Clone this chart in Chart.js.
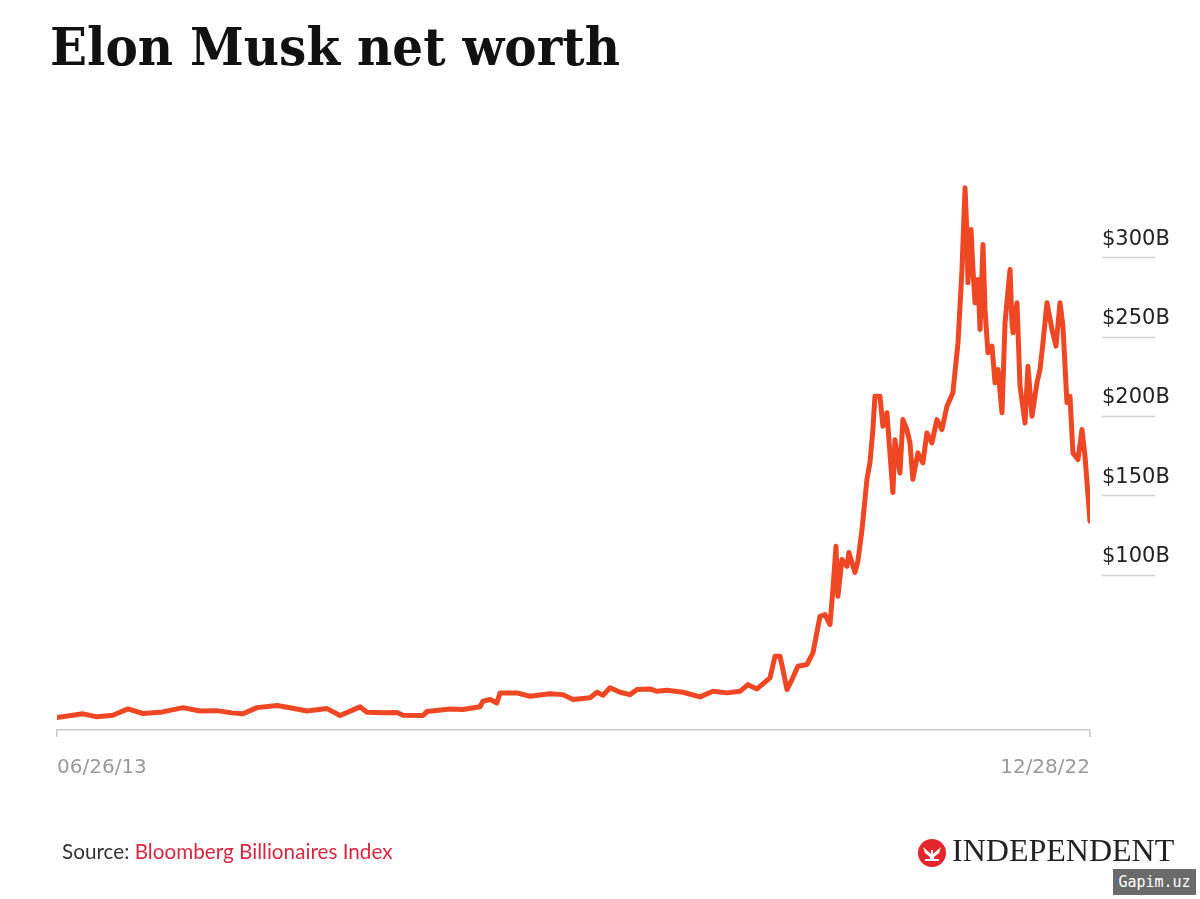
<!DOCTYPE html>
<html>
<head>
<meta charset="utf-8">
<script src="https://cdn.jsdelivr.net/npm/chart.js@4.4.1/dist/chart.umd.min.js"></script>
<style>
  body { margin: 0; background: #fff; width: 1200px; height: 899px; overflow: hidden; position: relative; }
  #chart { position: absolute; left: 0; top: 0; }
  #title { position: absolute; left: 50px; top: 21px; font: bold 52px "DejaVu Serif"; line-height: 52px; color: #111; white-space: nowrap; transform-origin: 0 0; }
  #source { position: absolute; left: 62px; top: 841px; font: 20.7px Lato; line-height: 20px; white-space: nowrap; }
  #source .lbl { color: #333; }
  #source .red { color: #d7283f; }
  #logo { position: absolute; left: 917px; top: 834px; height: 32px; white-space: nowrap; }
  #logo svg { position: absolute; left: 0; top: 4px; }
  #logo span { position: absolute; left: 35px; top: 0; font: 32px "Liberation Serif"; line-height: 32px; color: #222; }
  #mark { position: absolute; left: 1113px; top: 869px; width: 83px; height: 26px; background: #6b6b6b; color: #fff; font: 15px "DejaVu Sans Mono"; line-height: 26px; text-align: center; }
</style>
</head>
<body>
<div id="title">Elon Musk net worth</div>
<canvas id="chart" width="1200" height="899"></canvas>
<div id="source"><span class="lbl">Source:</span> <span class="red">Bloomberg Billionaires Index</span></div>
<div id="logo">
  <svg width="30" height="30" viewBox="-15 -15 30 30">
    <circle r="14" fill="#e3262d"/>
    <path d="M-9,-6 L-1,1 L-1,-3 L1,-3 L1,1 L9,-6 L7,0 L2,4 L2,8 L-2,8 L-2,4 L-7,0 Z" fill="#fff"/>
    <path d="M-7,6 L7,6 L7,8 L-7,8 Z" fill="#fff"/>
  </svg>
  <span>INDEPENDENT</span>
</div>
<div id="mark">Gapim.uz</div>
<script>
// decimal years
const years = [2013.482, 2013.721, 2013.850, 2013.997, 2014.135, 2014.273, 2014.457, 2014.641, 2014.798, 2014.954,
  2015.092, 2015.193, 2015.323, 2015.507, 2015.627, 2015.783, 2015.967, 2016.087, 2016.271, 2016.335,
  2016.482, 2016.611, 2016.666, 2016.850, 2016.887, 2017.099, 2017.218, 2017.375, 2017.402, 2017.467,
  2017.531, 2017.559, 2017.715, 2017.835, 2018.019, 2018.139, 2018.231, 2018.388, 2018.452, 2018.507,
  2018.572, 2018.664, 2018.756, 2018.820, 2018.940, 2019.004, 2019.096, 2019.243, 2019.400, 2019.519,
  2019.648, 2019.768, 2019.841, 2019.924, 2020.044, 2020.090, 2020.136, 2020.163, 2020.200, 2020.246,
  2020.301, 2020.384, 2020.439, 2020.504, 2020.550, 2020.596, 2020.623, 2020.651, 2020.669, 2020.706,
  2020.752, 2020.770, 2020.826, 2020.853, 2020.890, 2020.918, 2020.936, 2020.964, 2020.991, 2021.010,
  2021.056, 2021.083, 2021.120, 2021.175, 2021.194, 2021.240, 2021.267, 2021.304, 2021.332, 2021.359,
  2021.405, 2021.451, 2021.488, 2021.534, 2021.580, 2021.626, 2021.672, 2021.727, 2021.774, 2021.811,
  2021.839, 2021.857, 2021.866, 2021.894, 2021.912, 2021.931, 2021.958, 2021.977, 2022.004, 2022.023,
  2022.050, 2022.087, 2022.115, 2022.142, 2022.179, 2022.207, 2022.253, 2022.271, 2022.280, 2022.317,
  2022.345, 2022.391, 2022.418, 2022.455, 2022.501, 2022.529, 2022.556, 2022.593, 2022.639, 2022.676,
  2022.713, 2022.740, 2022.777, 2022.805, 2022.832, 2022.878, 2022.915, 2022.943, 2022.989];

// net worth, $ billions
const worth = [9.8, 12.2, 10.3, 11.3, 15.3, 12.4, 13.4, 16.1, 14.0, 14.2,
  12.8, 12.2, 16.1, 17.4, 16.0, 14.0, 15.5, 11.1, 16.6, 13.2,
  12.8, 13.0, 11.3, 11.1, 13.6, 15.3, 14.9, 16.6, 20.1, 21.2,
  19.1, 25.4, 25.4, 23.3, 24.8, 24.3, 21.2, 22.3, 25.8, 23.9,
  28.6, 25.8, 24.3, 27.5, 27.9, 26.4, 27.0, 25.8, 22.9, 26.4,
  25.4, 26.4, 30.6, 27.9, 34.9, 48.5, 48.5, 40.1, 27.5, 33.8,
  42.2, 43.3, 50.6, 73.7, 74.8, 68.5, 90.5, 117.8, 86.3, 109.5,
  105.2, 113.9, 101.3, 108.4, 128, 147.3, 160, 170.6, 191.4, 212.4,
  212.4, 193.5, 202, 151.7, 185, 164, 197.7, 191.4, 183, 160,
  176.7, 170.4, 189.3, 183, 197.7, 191.4, 206, 214.6, 246, 292.3,
  343.8, 313.3, 284, 317.5, 292.3, 271.3, 286, 254.5, 308, 267,
  239.8, 244, 220.9, 229.3, 202, 258.7, 292.3, 258.7, 252.4, 271.3,
  218.7, 195.6, 231.3, 199.8, 220.9, 229.3, 246, 271.3, 254.5, 244,
  271.3, 256.6, 208.3, 212.4, 176.7, 172.5, 191.4, 174.6, 133.6];

const yTicks = [100, 150, 200, 250, 300];
const yLabels = ['$100B', '$150B', '$200B', '$250B', '$300B'];
const xLabels = ['06/26/13', '12/28/22'];
const xStart = 2013.482;
const xEnd = 2022.989;

// fit title to the reference width
const title = document.querySelector('#title');
title.style.transform = 'scaleX(' + (570 / title.getBoundingClientRect().width) + ')';

const underlines = {
  id: 'underlines',
  afterDraw(chart) {
    const ctx = chart.ctx;
    const y = chart.scales.y;
    ctx.save();
    ctx.strokeStyle = '#d3d3d3';
    ctx.lineWidth = 1.5;
    y.ticks.forEach(t => {
      const py = Math.round(y.getPixelForValue(t.value)) + 0.5;
      ctx.beginPath();
      ctx.moveTo(y.left + 12, py);
      ctx.lineTo(y.left + 65, py);
      ctx.stroke();
    });
    ctx.restore();
  }
};

new Chart(document.querySelector('#chart'), {
  type: 'line',
  data: {
    datasets: [{
      data: years.map((x, i) => ({x: x, y: worth[i]})),
      borderColor: '#ef4623',
      borderWidth: 5,
      pointRadius: 0,
      tension: 0,
      borderJoinStyle: 'round',
      borderCapStyle: 'round'
    }]
  },
  options: {
    responsive: false,
    animation: false,
    devicePixelRatio: 1,
    layout: { padding: { left: 57, top: 178, right: 0, bottom: 119 } },
    plugins: { legend: { display: false }, tooltip: { enabled: false } },
    scales: {
      x: {
        type: 'linear',
        min: xStart,
        max: xEnd,
        afterBuildTicks: s => { s.ticks = [{value: xStart}, {value: xEnd}]; },
        afterFit: s => { s.height = 50; },
        border: { display: true, color: '#c8c8c8', width: 1.5 },
        grid: { drawOnChartArea: false, drawTicks: true, tickLength: 7, color: '#c8c8c8', lineWidth: 1.5 },
        ticks: {
          autoSkip: false,
          maxRotation: 0,
          align: 'inner',
          padding: 19,
          color: '#999',
          font: { family: 'DejaVu Sans', size: 20 },
          callback: (v, i) => xLabels[i]
        }
      },
      y: {
        position: 'right',
        min: 2,
        max: 350,
        afterBuildTicks: s => { s.ticks = yTicks.map(v => ({value: v})); },
        afterFit: s => { s.width = 110; },
        border: { display: false },
        grid: { display: false, drawTicks: false },
        ticks: {
          padding: 12,
          labelOffset: -18,
          color: '#222',
          font: { family: 'DejaVu Sans', size: 21 },
          callback: (v) => yLabels[yTicks.indexOf(v)]
        }
      }
    }
  },
  plugins: [underlines]
});
</script>
</body>
</html>
